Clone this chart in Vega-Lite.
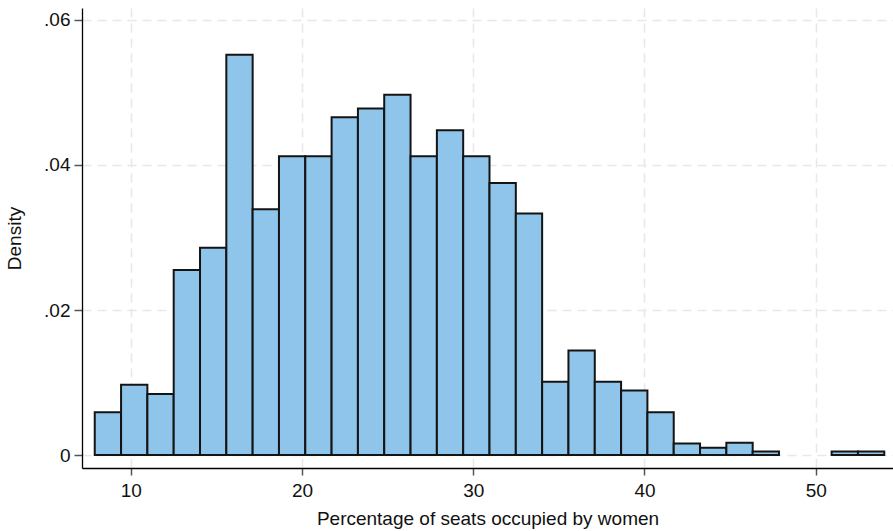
{
  "$schema": "https://vega.github.io/schema/vega-lite/v6.json",
  "width": 811,
  "height": 460,
  "autosize": {"type": "none"},
  "padding": {"left": 82, "top": 8, "right": 0, "bottom": 63},
  "background": "white",
  "config": {
    "font": "Liberation Sans",
    "view": {"stroke": null},
    "axis": {"labelFont": "Liberation Sans", "titleFont": "Liberation Sans", "labelColor": "#111", "titleColor": "#111", "titleFontWeight": "normal"}
  },
  "data": {
    "values": [
      {"bin_start": 7.900, "bin_end": 9.437, "density": 0.0059},
      {"bin_start": 9.437, "bin_end": 10.973, "density": 0.0097},
      {"bin_start": 10.973, "bin_end": 12.510, "density": 0.0084},
      {"bin_start": 12.510, "bin_end": 14.047, "density": 0.0255},
      {"bin_start": 14.047, "bin_end": 15.583, "density": 0.0286},
      {"bin_start": 15.583, "bin_end": 17.120, "density": 0.0552},
      {"bin_start": 17.120, "bin_end": 18.657, "density": 0.0339},
      {"bin_start": 18.657, "bin_end": 20.193, "density": 0.0412},
      {"bin_start": 20.193, "bin_end": 21.730, "density": 0.0412},
      {"bin_start": 21.730, "bin_end": 23.267, "density": 0.0466},
      {"bin_start": 23.267, "bin_end": 24.803, "density": 0.0478},
      {"bin_start": 24.803, "bin_end": 26.340, "density": 0.0497},
      {"bin_start": 26.340, "bin_end": 27.877, "density": 0.0412},
      {"bin_start": 27.877, "bin_end": 29.413, "density": 0.0448},
      {"bin_start": 29.413, "bin_end": 30.950, "density": 0.0412},
      {"bin_start": 30.950, "bin_end": 32.487, "density": 0.0375},
      {"bin_start": 32.487, "bin_end": 34.023, "density": 0.0333},
      {"bin_start": 34.023, "bin_end": 35.560, "density": 0.0101},
      {"bin_start": 35.560, "bin_end": 37.097, "density": 0.0144},
      {"bin_start": 37.097, "bin_end": 38.633, "density": 0.0101},
      {"bin_start": 38.633, "bin_end": 40.170, "density": 0.0089},
      {"bin_start": 40.170, "bin_end": 41.707, "density": 0.0059},
      {"bin_start": 41.707, "bin_end": 43.243, "density": 0.0016},
      {"bin_start": 43.243, "bin_end": 44.780, "density": 0.0010},
      {"bin_start": 44.780, "bin_end": 46.317, "density": 0.0017},
      {"bin_start": 46.317, "bin_end": 47.853, "density": 0.0005},
      {"bin_start": 50.927, "bin_end": 52.463, "density": 0.0005},
      {"bin_start": 52.463, "bin_end": 54.000, "density": 0.0005}
    ]
  },
  "mark": {"type": "rect", "fill": "#8FC5EA", "stroke": "#141414", "strokeWidth": 2},
  "encoding": {
    "x": {
      "field": "bin_start",
      "type": "quantitative",
      "scale": {"domain": [7.156, 54.51], "nice": false, "zero": false},
      "axis": {
        "title": "Percentage of seats occupied by women",
        "values": [10, 20, 30, 40, 50],
        "labelFontSize": 19,
        "titleFontSize": 19,
        "tickSize": 7,
        "tickColor": "#555",
        "tickWidth": 1.5,
        "labelPadding": 6,
        "titlePadding": 9,
        "domainColor": "#000",
        "domainWidth": 1.3,
        "grid": true,
        "gridColor": "#e8e8e8",
        "gridWidth": 1.5,
        "gridDash": [9, 6]
      }
    },
    "x2": {"field": "bin_end"},
    "y": {
      "field": "density",
      "type": "quantitative",
      "scale": {"domain": [-0.00179, 0.06165], "nice": false, "zero": false},
      "axis": {
        "title": "Density",
        "values": [0, 0.02, 0.04, 0.06],
        "labelExpr": "datum.value == 0 ? '0' : replace(format(datum.value, '.2f'), '0.', '.')",
        "labelFontSize": 19,
        "titleFontSize": 19,
        "tickSize": 8,
        "tickColor": "#555",
        "tickWidth": 1.5,
        "labelPadding": 4,
        "titlePadding": 19,
        "domainColor": "#000",
        "domainWidth": 1.3,
        "grid": true,
        "gridColor": "#e8e8e8",
        "gridWidth": 1.5,
        "gridDash": [9, 6]
      }
    },
    "y2": {"datum": 0}
  }
}
